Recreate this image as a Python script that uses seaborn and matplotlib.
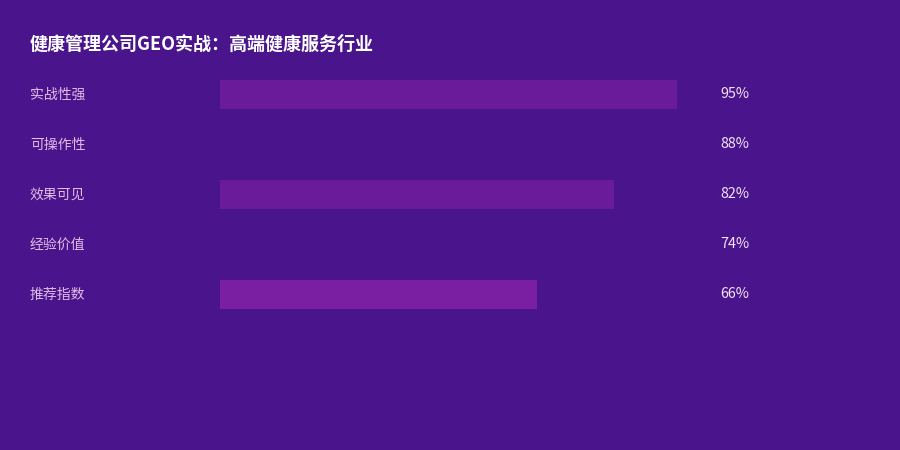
import matplotlib
matplotlib.use("Agg")
import matplotlib.pyplot as plt
import seaborn as sns
import pandas as pd

# chart data
title = "健康管理公司GEO实战：高端健康服务行业"
categories = ["实战性强", "可操作性", "效果可见", "经验价值", "推荐指数"]
scores = [95, 88, 82, 74, 66]
bar_colors = ["#6a1b9a", "#4a148c", "#6a1b9a", "#4a148c", "#7b1fa2"]

BG = "#4a148c"
LABEL = "#e1bee7"

sns.set_theme(style="white")
plt.rcParams["font.family"] = ["Noto Sans CJK SC", "DejaVu Sans"]

df = pd.DataFrame({"cat": categories, "score": scores})

fig = plt.figure(figsize=(9, 4.5), dpi=100, facecolor=BG)
ax = fig.add_axes([220 / 900, 1 - 319.5 / 450, 481 / 900, 250 / 450])
ax.set_facecolor(BG)

sns.barplot(data=df, y="cat", x="score", hue="cat", palette=bar_colors,
            order=categories, hue_order=categories, legend=False,
            width=0.58, saturation=1, linewidth=0, edgecolor="none", ax=ax)

ax.set_xlim(0, 100)
ax.set_ylim(len(categories) - 0.5, -0.5)
ax.set_xlabel("")
ax.set_ylabel("")
ax.set_xticks([])
ax.set_yticks([])
sns.despine(ax=ax, left=True, bottom=True)

for i, (c, v) in enumerate(zip(categories, scores)):
    ax.annotate(c, xy=(-190 / 481, i), xycoords=("axes fraction", "data"),
                ha="left", va="center", fontsize=10, color=LABEL)
    ax.annotate(f"{v}%", xy=(500 / 481, i), xycoords=("axes fraction", "data"),
                ha="left", va="center", fontsize=10.3, color="#f3e5f5")

fig.text(30 / 900, 1 - 44 / 450, title, ha="left", va="center",
         fontsize=13, fontweight="bold", color="white")

fig.savefig("out.png", dpi=100, facecolor=BG)
